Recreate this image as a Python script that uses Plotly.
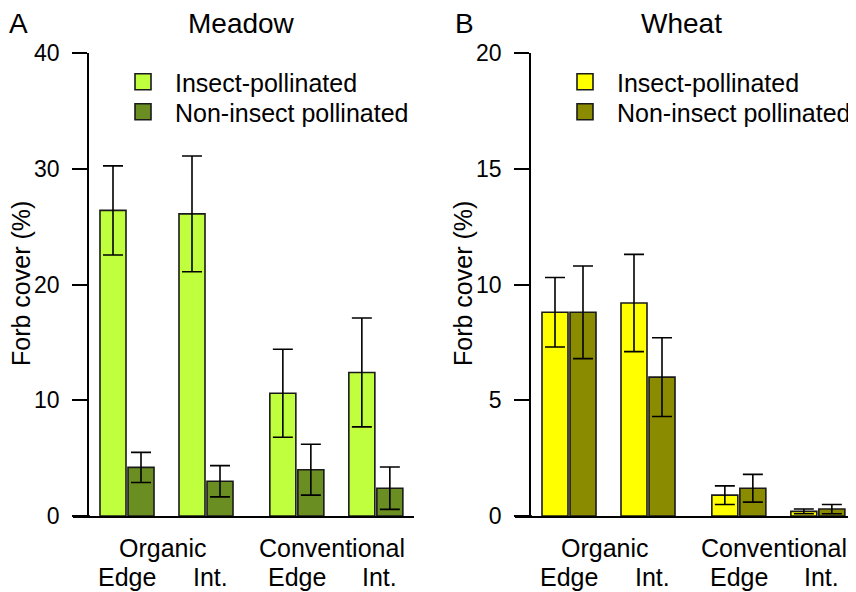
import plotly.graph_objects as go

# ---------------- data ----------------
treatments = ["Organic", "Conventional"]
positions = ["Edge", "Int.", "Edge", "Int."]
series_names = ["Insect-pollinated", "Non-insect pollinated"]

meadow_insect = [26.4, 26.1, 10.6, 12.4]
meadow_insect_se = [3.85, 5.0, 3.8, 4.7]
meadow_non = [4.2, 3.0, 4.0, 2.4]
meadow_non_se = [1.3, 1.35, 2.2, 1.83]

wheat_insect = [8.8, 9.2, 0.9, 0.2]
wheat_insect_se = [1.5, 2.1, 0.4, 0.1]
wheat_non = [8.8, 6.0, 1.2, 0.3]
wheat_non_se = [2.0, 1.7, 0.6, 0.2]

meadow_ticks = [0, 10, 20, 30, 40]
wheat_ticks = [0, 5, 10, 15, 20]

# ---------------- layout helpers ----------------
PAGE_W, PAGE_H = 856, 592
BODY = 8                      # default page body margin
W, H = PAGE_W - BODY, PAGE_H - BODY
FONT = "Liberation Sans, Arial, sans-serif"
OUTLINE = "#1a1a1a"
group_gap = 0.15
xpos = [0, 1, 2 + group_gap, 3 + group_gap]

def px(xp):
    """page pixel x -> paper fraction"""
    return (xp - BODY) / W

def py(yp):
    """page pixel y -> paper fraction"""
    return 1 - (yp - BODY) / H

fig = go.Figure()

def add_bars(xaxis, yaxis, vals, se, color, name, legend):
    fig.add_trace(go.Bar(
        x=xpos, y=vals, name=name, xaxis=xaxis, yaxis=yaxis, showlegend=False,
        marker=dict(color=color, line=dict(color=OUTLINE, width=1.6)),
        error_y=dict(type="data", array=se, visible=True, color="black",
                     thickness=1.6, width=10),
    ))
    # legend entry with a larger square key
    fig.add_trace(go.Scatter(
        x=[None], y=[None], mode="markers", name=name, xaxis=xaxis, yaxis=yaxis,
        legend=legend, showlegend=True, hoverinfo="skip",
        marker=dict(symbol="square", size=16, color=color,
                    line=dict(color=OUTLINE, width=1.6)),
    ))

add_bars("x", "y", meadow_insect, meadow_insect_se, "#C0FF3E", series_names[0], "legend")
add_bars("x", "y", meadow_non, meadow_non_se, "#6B8E23", series_names[1], "legend2")
add_bars("x2", "y2", wheat_insect, wheat_insect_se, "#FFFF00", series_names[0], "legend3")
add_bars("x2", "y2", wheat_non, wheat_non_se, "#8B8B00", series_names[1], "legend4")

xrange = [-54 / 79, 287 / 79]
ydom = [py(516), py(53)]

xaxis_common = dict(showgrid=False, zeroline=False, linecolor="black", linewidth=1.6,
                    showline=True, showticklabels=False, ticks="", automargin=False)
yaxis_common = dict(showgrid=False, zeroline=False, linecolor="black", linewidth=1.6,
                    showline=True, ticks="outside", ticklen=15, tickwidth=1.6, tickcolor="black",
                    ticklabelstandoff=8, automargin=False,
                    tickfont=dict(family=FONT, size=23, color="black"))

def legend_at(x_px, top_px):
    return dict(x=px(x_px), y=py(top_px), xanchor="left", yanchor="top",
                font=dict(family=FONT, size=25, color="black"),
                itemwidth=54, bgcolor="rgba(0,0,0,0)", borderwidth=0)

LEG_OFF = 24
fig.update_layout(
    width=W, height=H,
    margin=dict(l=0, r=0, t=0, b=0, pad=0),
    paper_bgcolor="white", plot_bgcolor="white",
    barmode="group", bargap=0.291, bargroupgap=0.0714,
    font=dict(family=FONT, color="black"),
    xaxis=dict(domain=[px(73), px(414)], range=xrange, anchor="y", **xaxis_common),
    xaxis2=dict(domain=[px(515), 1.0], range=xrange, anchor="y2", **xaxis_common),
    yaxis=dict(domain=ydom, range=[0, 40], anchor="free", position=px(88),
               tickvals=meadow_ticks, **yaxis_common),
    yaxis2=dict(domain=ydom, range=[0, 20], anchor="free", position=px(530),
                tickvals=wheat_ticks, **yaxis_common),
    legend=legend_at(111, 83 - LEG_OFF),
    legend2=legend_at(111, 113 - LEG_OFF),
    legend3=legend_at(553, 83 - LEG_OFF),
    legend4=legend_at(553, 113 - LEG_OFF),
    showlegend=True,
)

def ann(text, x, y, xref="paper", size=25, **kw):
    return dict(text=text, x=x, y=y, xref=xref, yref="paper", showarrow=False,
                xanchor="center", yanchor="middle",
                font=dict(family=FONT, size=size, color="black"), **kw)

annotations = []
for xa, off, title, letter, title_x, letter_x in [
    ("x", 0, "Meadow", "A", 241, 18),
    ("x2", 442, "Wheat", "B", 681, 465),
]:
    annotations.append(ann(title, px(title_x), py(23), size=28))
    annotations.append(ann(letter, px(letter_x), py(23), size=28))
    annotations.append(ann("Forb cover (%)", px(21 + off), py(284), size=25, textangle=-90))
    for i, t in enumerate(treatments):
        cx = (xpos[2 * i] + xpos[2 * i + 1]) / 2
        annotations.append(ann(t, cx, py(548), xref=xa, xshift=-4))
    for i, p in enumerate(positions):
        annotations.append(ann(p, xpos[i], py(577), xref=xa,
                               xshift=(4 if p == "Int." else 0)))

fig.update_layout(annotations=annotations)

# baseline continues left to the tick end (as in reference)
for off in (0, 442):
    fig.add_shape(type="line", xref="paper", yref="paper",
                  x0=px(73 + off), x1=px(90 + off), y0=py(516), y1=py(516),
                  line=dict(color="black", width=1.6))

fig.write_html("out.html")
